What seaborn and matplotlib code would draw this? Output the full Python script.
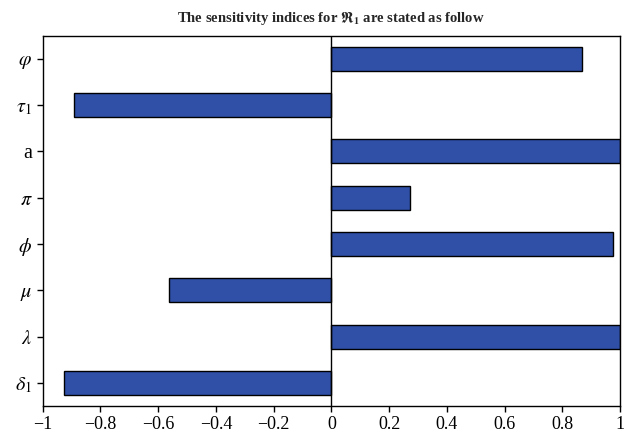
import matplotlib
matplotlib.use("Agg")
import matplotlib.pyplot as plt
import seaborn as sns
import pandas as pd

# Sensitivity indices of R1 with respect to each parameter (top to bottom)
params = [r"$\varphi$", r"$\tau_1$", "a", r"$\pi$", r"$\phi$", r"$\mu$", r"$\lambda$", r"$\delta_1$"]
indices = [0.87, -0.89, 1.0, 0.273, 0.975, -0.563, 1.0, -0.925]
xticks = [-1, -0.8, -0.6, -0.4, -0.2, 0, 0.2, 0.4, 0.6, 0.8, 1]

sns.set_style("ticks")
plt.rcParams["font.family"] = ["Liberation Serif", "DejaVu Serif"]
plt.rcParams["mathtext.fontset"] = "stix"

df = pd.DataFrame({"param": params, "index": indices})

fig = plt.figure(figsize=(6.32, 4.41), dpi=100)
ax = fig.add_axes([42.7 / 632, 1 - 406 / 441, (620 - 42.7) / 632, (406 - 35.7) / 441])

sns.barplot(data=df, x="index", y="param", orient="h", color="#3050a8",
            saturation=1, width=0.52, edgecolor="black", linewidth=1.0, ax=ax)

ax.axvline(0, color="black", linewidth=1.0, zorder=3)
ax.set_xlim(-1, 1)
ax.set_ylim(7.5, -0.5)
ax.set_xticks(xticks)
ax.set_xticklabels(["\u22121" if v == -1 else ("0" if v == 0 else ("1" if v == 1 else f"{v:.1f}".replace("-", "\u2212"))) for v in xticks])
ax.set_xlabel("")
ax.set_ylabel("")
for s in ax.spines.values():
    s.set_visible(True)
    s.set_color("black")
    s.set_linewidth(1.0)
ax.tick_params(axis="both", direction="out", length=4, width=1, colors="black")
ax.tick_params(axis="x", labelsize=13)
ax.tick_params(axis="y", labelsize=14.5)

ax.set_title(r"The sensitivity indices for $\mathbf{\Re_1}$ are stated as follow",
             fontsize=10.5, fontweight="bold", pad=10)

fig.savefig("out.png", dpi=100)
